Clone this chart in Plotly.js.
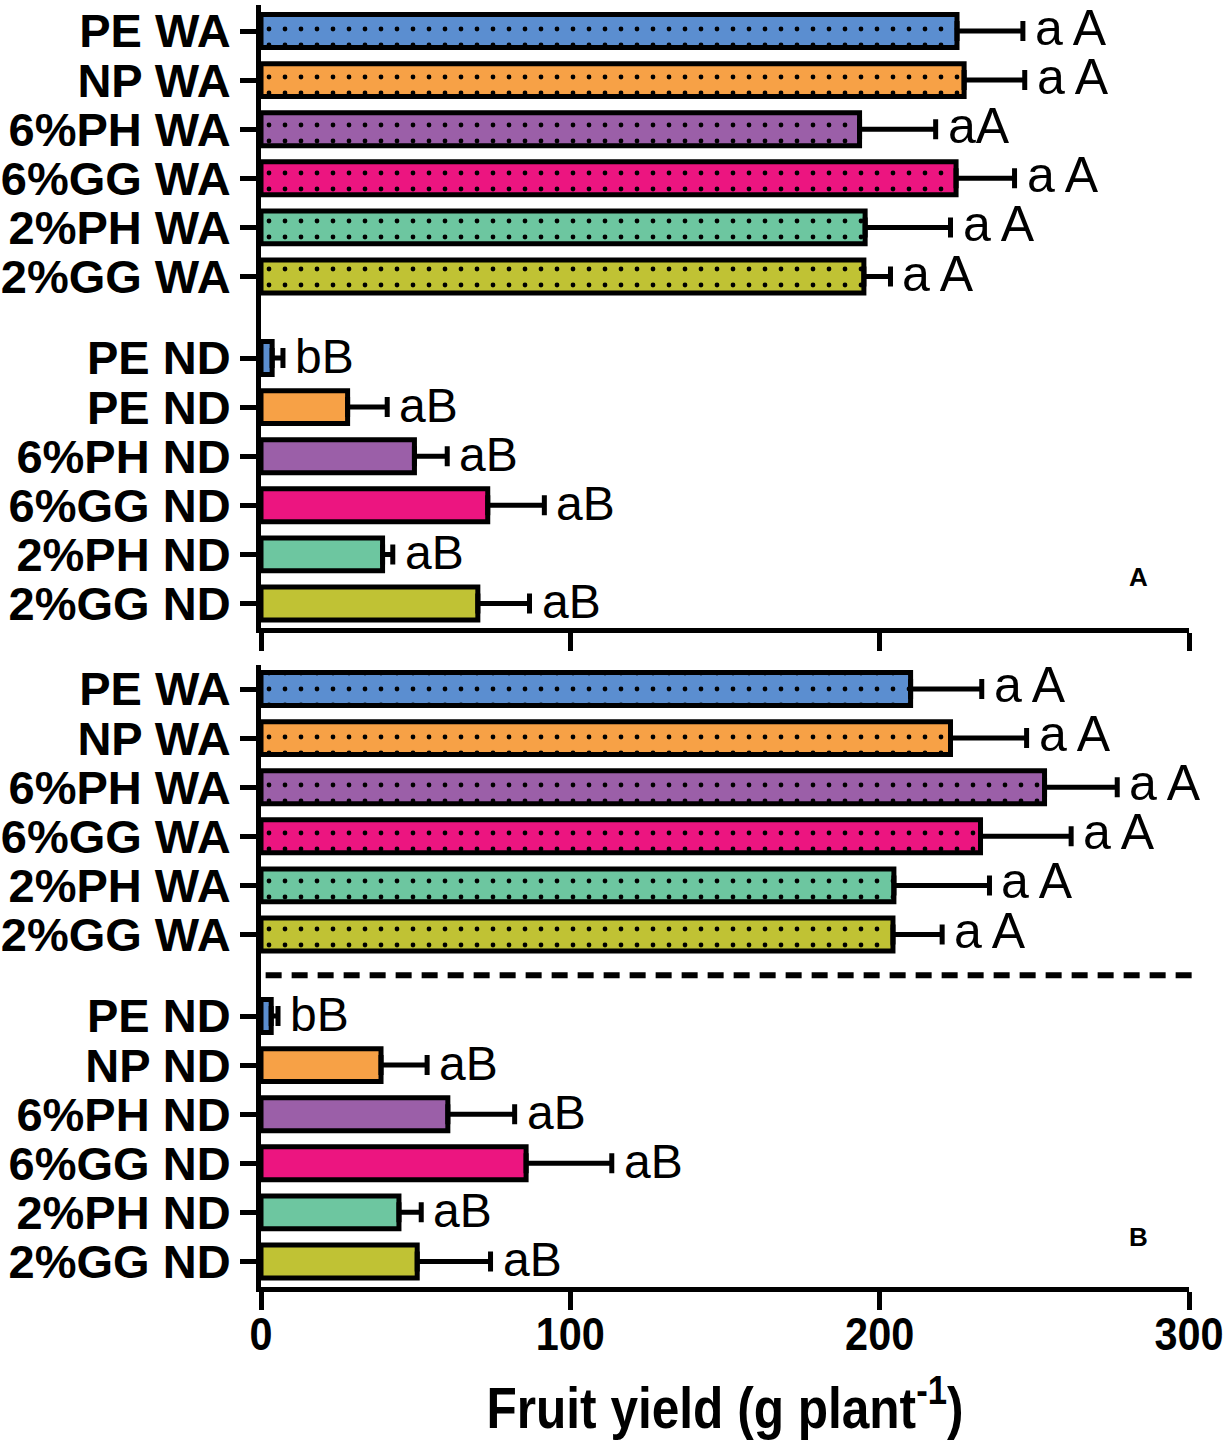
<!DOCTYPE html>
<html><head><meta charset="utf-8">
<script src="https://cdn.plot.ly/plotly-3.0.1.min.js"></script>
<style>html,body{margin:0;padding:0;background:#fff}</style>
</head><body><div id="chart" style="width:1229px;height:1446px"></div>
<script>
// ---- data ----
const colors = ["#5B8ED0", "#F7A146", "#9B5FA8", "#EC1580", "#6DC6A0", "#C0C234"];

// Panel A
const labelsA = ["PE WA", "NP WA", "6%PH WA", "6%GG WA", "2%PH WA", "2%GG WA",
                 "PE ND", "PE ND", "6%PH ND", "6%GG ND", "2%PH ND", "2%GG ND"];
const waMeanA = [225.0, 227.3, 193.5, 224.7, 195.3, 194.9];
const waErrA  = [21.3, 19.6, 24.6, 18.9, 27.6, 8.6];
const ndMeanA = [3.6, 28.0, 49.6, 73.3, 39.3, 70.1];
const ndErrA  = [3.5, 12.8, 10.6, 18.3, 3.3, 16.7];
const waLettersA = ["a\u2009A", "a\u2009A", "aA", "a\u2009A", "a\u2009A", "a\u2009A"];
const ndLettersA = ["bB", "aB", "aB", "aB", "aB", "aB"];

// Panel B
const labelsB = ["PE WA", "NP WA", "6%PH WA", "6%GG WA", "2%PH WA", "2%GG WA",
                 "PE ND", "NP ND", "6%PH ND", "6%GG ND", "2%PH ND", "2%GG ND"];
const waMeanB = [210.0, 222.9, 253.3, 232.6, 204.6, 204.3];
const waErrB  = [23.0, 24.6, 23.5, 29.3, 30.9, 15.9];
const ndMeanB = [3.3, 38.8, 60.4, 85.7, 44.6, 50.5];
const ndErrB  = [2.2, 14.9, 21.6, 27.7, 7.2, 23.7];
const waLettersB = ["a\u2009A", "a\u2009A", "a\u2009A", "a\u2009A", "a\u2009A", "a\u2009A"];
const ndLettersB = ["bB", "aB", "aB", "aB", "aB", "aB"];

const xTicks = [0, 100, 200, 300];
const xTitle = "Fruit yield (g plant<sup>-1</sup>)";

// ---- layout helpers ----
const GAP = 1.66;
const waPos = waMeanA.map((_, i) => i);
const ndPos = ndMeanA.map((_, i) => 5 + GAP + i);
const allPos = waPos.concat(ndPos);

const data = [];
function addBars(means, errs, pos, xa, ya, patterned) {
  means.forEach((m, i) => {
    const marker = {color: colors[i], line: {color: "#000", width: 5}};
    if (patterned) {
      marker.pattern = {shape: ".", fgcolor: "#000", fgopacity: 1, fillmode: "overlay", size: 16, solidity: 0.07};
    }
    data.push({
      type: "bar", orientation: "h", x: [m], y: [pos[i]], xaxis: xa, yaxis: ya,
      width: 0.67, marker: marker, showlegend: false, hoverinfo: "skip",
      error_x: {type: "data", symmetric: false, array: [errs[i]], arrayminus: [0],
                color: "#000", thickness: 5, width: 10}
    });
  });
}
addBars(waMeanA, waErrA, waPos, "x2", "y2", true);
addBars(ndMeanA, ndErrA, ndPos, "x2", "y2", false);
addBars(waMeanB, waErrB, waPos, "x", "y", true);
addBars(ndMeanB, ndErrB, ndPos, "x", "y", false);

const annotations = [];
function letters(means, errs, pos, texts, xr, yr, size, yshift) {
  means.forEach((m, i) => {
    annotations.push({
      x: m + errs[i], y: pos[i], xref: xr, yref: yr, text: texts[i],
      xanchor: "left", yanchor: "middle", xshift: 10, yshift: yshift, showarrow: false,
      font: {family: "Arial", size: size, color: "#000"}
    });
  });
}
letters(waMeanA, waErrA, waPos, waLettersA, "x2", "y2", 50, 3);
letters(ndMeanA, ndErrA, ndPos, ndLettersA, "x2", "y2", 48, 2);
letters(waMeanB, waErrB, waPos, waLettersB, "x", "y", 50, 4);
letters(ndMeanB, ndErrB, ndPos, ndLettersB, "x", "y", 48, 2);

annotations.push({xref: "x2 domain", yref: "y2 domain", x: 0.946, y: 0.082, text: "A", showarrow: false,
  xanchor: "center", yanchor: "middle", font: {family: "Liberation Sans", size: 26, color: "#000", weight: "bold"}});
annotations.push({xref: "x domain", yref: "y domain", x: 0.946, y: 0.08, text: "B", showarrow: false,
  xanchor: "center", yanchor: "middle", font: {family: "Liberation Sans", size: 26, color: "#000", weight: "bold"}});

const xBase = {
  range: [0, 300], tickvals: xTicks, ticks: "outside", ticklen: 18, tickwidth: 5, tickcolor: "#000",
  showline: true, linewidth: 5, linecolor: "#000", showgrid: false, zeroline: false, fixedrange: true,
  ticklabeloverflow: "allow"
};
const yBase = {
  tickvals: allPos, ticks: "outside", ticklen: 16, tickwidth: 5, tickcolor: "#000",
  showline: true, linewidth: 5, linecolor: "#000", showgrid: false, zeroline: false,
  ticklabelstandoff: 0,
  tickfont: {family: "Liberation Sans", size: 47, color: "#000", weight: "bold"}
};

const layout = {
  width: 1229, height: 1446,
  margin: {l: 261, r: 40, t: 5, b: 159},
  paper_bgcolor: "#fff", plot_bgcolor: "#fff",
  bargap: 0, barmode: "overlay",
  xaxis: Object.assign({}, xBase, {
    domain: [0, 1], anchor: "y",
    tickfont: {family: "Liberation Sans", size: 46, color: "#000", weight: "bold"},
    ticklabelstandoff: -15,
    title: {text: xTitle, standoff: 30, font: {family: "Liberation Sans", size: 57, color: "#000", weight: "bold"}}
  }),
  xaxis2: Object.assign({}, xBase, {domain: [0, 1], anchor: "y2", showticklabels: false}),
  yaxis: Object.assign({}, yBase, {domain: [0, 0.4852], anchor: "x", range: [12.18, -0.49], ticktext: labelsB}),
  yaxis2: Object.assign({}, yBase, {domain: [0.514, 1], anchor: "x2", range: [12.16, -0.53], ticktext: labelsA}),
  shapes: [{
    type: "line", xref: "paper", yref: "y", x0: 0.005, x1: 1.008,
    y0: 5 + GAP / 2, y1: 5 + GAP / 2,
    line: {color: "#000", width: 6, dash: "16px,10px"}
  }],
  annotations: annotations
};

// the reference uses a narrow bold face for the x-axis texts: squeeze horizontally
function condenseLength(selector, factor) {
  document.querySelectorAll(selector).forEach(t => {
    const w = t.getComputedTextLength();
    if (w > 0) {
      t.setAttribute("textLength", (w * factor).toFixed(1));
      t.setAttribute("lengthAdjust", "spacingAndGlyphs");
    }
  });
}
function condenseScale(selector, factor) {
  document.querySelectorAll(selector).forEach(t => {
    const cx = parseFloat(t.getAttribute("x")) || 0;
    const prev = t.getAttribute("transform") || "";
    t.setAttribute("transform", prev + " translate(" + cx + ",0) scale(" + factor + ",1) translate(" + (-cx) + ",0)");
  });
}

Plotly.newPlot("chart", data, layout, {displayModeBar: false, staticPlot: true}).then(() => {
  condenseLength("g.xtick text", 0.9);
  condenseScale("text.xtitle", 0.87);
});
</script>
</body></html>
